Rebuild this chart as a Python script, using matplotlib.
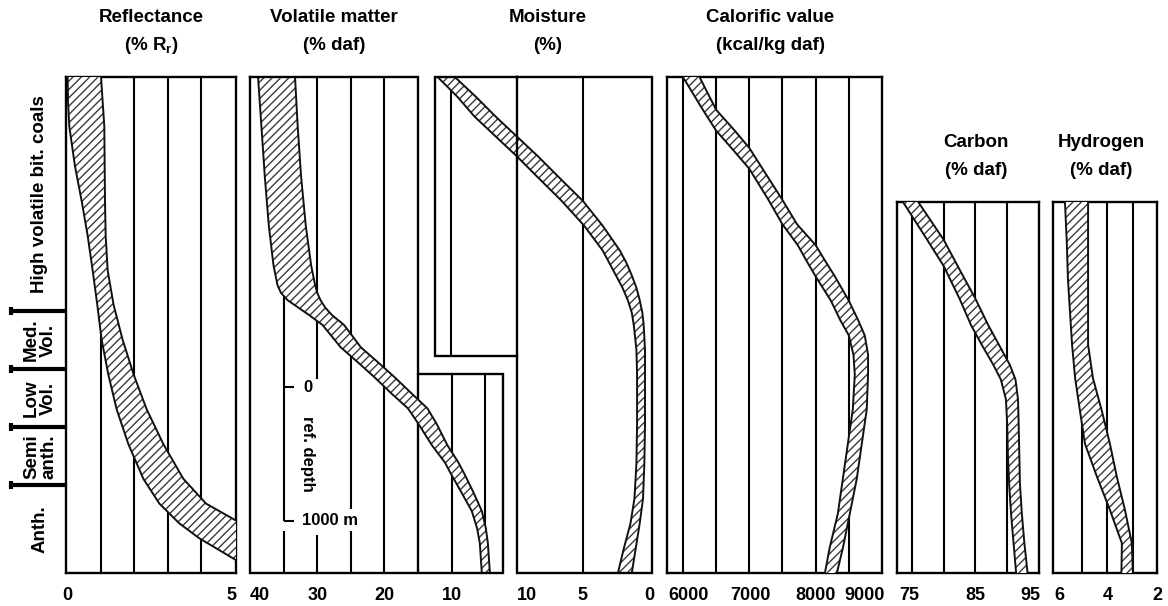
import numpy as np
import matplotlib
matplotlib.use('Agg')
import matplotlib.pyplot as plt

plt.rcParams['font.family'] = ['Liberation Sans', 'DejaVu Sans']
plt.rcParams['font.weight'] = 'bold'
plt.rcParams['mathtext.fontset'] = 'custom'
plt.rcParams['mathtext.rm'] = 'Liberation Sans:bold'
plt.rcParams['mathtext.bf'] = 'Liberation Sans:bold'
plt.rcParams['hatch.linewidth'] = 1.0

# rank column (depth fraction 0 = top of the panels, 1 = bottom)
rank_names = ['High volatile bit. coals', 'Med.\nVol.', 'Low\nVol.', 'Semi\nanth.', 'Anth.']
rank_bounds = [0.0, 0.472, 0.589, 0.706, 0.823, 1.0]

# reflectance band (% Rr)
refl_depth = [0.00, 0.05, 0.10, 0.18, 0.25, 0.32, 0.39, 0.46, 0.53, 0.60, 0.67, 0.74, 0.81, 0.86, 0.90, 0.93, 0.96, 0.98]
refl_left = [0.00, 0.01, 0.05, 0.22, 0.42, 0.60, 0.75, 0.89, 1.02, 1.22, 1.47, 1.82, 2.27, 2.75, 3.35, 3.95, 4.70, 5.20]
refl_right = [1.00, 1.05, 1.10, 1.11, 1.12, 1.14, 1.20, 1.38, 1.65, 1.98, 2.37, 2.87, 3.47, 4.15, 5.20, 5.20, 5.20, 5.20]

# volatile matter band (% daf)
vm_depth = [0.00, 0.10, 0.20, 0.30, 0.38, 0.42, 0.435, 0.45, 0.465, 0.48, 0.50, 0.545, 0.577, 0.605, 0.64,
            0.668, 0.70, 0.743, 0.777, 0.80, 0.836, 0.875, 0.91, 0.94, 1.00]
vm_left = [38.8, 38.3, 37.8, 37.2, 36.5, 35.9, 35.4, 34.4, 32.8, 31.2, 29.2, 26.5, 23.8, 21.5, 18.8,
           16.5, 14.9, 12.9, 11.0, 10.1, 8.6, 7.0, 6.2, 5.8, 5.5]
vm_right = [33.3, 32.9, 32.4, 31.7, 30.9, 30.3, 30.0, 29.5, 28.8, 27.8, 26.0, 23.5, 20.8, 18.5, 15.8,
            13.6, 12.2, 10.6, 9.0, 8.1, 6.8, 5.5, 4.9, 4.6, 4.3]

# moisture band (%)
moist_depth = [0.00, 0.04, 0.08, 0.12, 0.16, 0.20, 0.25, 0.30, 0.35, 0.375, 0.40, 0.425, 0.45, 0.475,
               0.50, 0.55, 0.60, 0.70, 0.78, 0.85, 0.90, 0.95, 1.00]
moist_left = [16.0, 14.5, 13.2, 11.6, 10.0, 8.5, 6.6, 4.9, 3.5, 3.0, 2.5, 2.0, 1.6, 1.3,
              1.15, 0.95, 0.9, 0.9, 0.95, 1.1, 1.4, 1.9, 2.35]
moist_right = [14.7, 13.1, 11.6, 10.0, 8.4, 6.9, 5.0, 3.5, 2.2, 1.7, 1.3, 0.95, 0.7, 0.5,
               0.4, 0.3, 0.3, 0.3, 0.35, 0.45, 0.7, 1.0, 1.3]

# calorific value band (kcal/kg daf)
cal_depth = [0.00, 0.066, 0.108, 0.143, 0.185, 0.248, 0.297, 0.339, 0.37, 0.402, 0.451, 0.49, 0.521,
             0.56, 0.60, 0.67, 0.74, 0.81, 0.88, 0.95, 1.00]
cal_left = [6000, 6300, 6500, 6730, 7000, 7290, 7500, 7730, 7860, 8000, 8230, 8370, 8500,
            8570, 8590, 8560, 8485, 8410, 8335, 8210, 8140]
cal_right = [6250, 6500, 6780, 7000, 7200, 7500, 7720, 8000, 8140, 8290, 8500, 8640, 8740,
             8790, 8790, 8770, 8695, 8620, 8515, 8410, 8320]

# carbon band (% daf)
c_depth = [0.252, 0.29, 0.328, 0.381, 0.447, 0.50, 0.54, 0.58, 0.61, 0.65, 0.70, 0.76, 0.82, 0.88, 0.94, 1.00]
c_left = [73.6, 75.5, 77.4, 80.0, 82.5, 84.3, 86.0, 87.8, 89.0, 89.8, 90.0, 90.1, 90.3, 90.6, 91.0, 91.4]
c_right = [76.0, 78.0, 80.0, 82.2, 85.0, 87.0, 88.7, 90.4, 91.3, 91.7, 91.8, 91.9, 92.0, 92.3, 92.7, 93.2]

# hydrogen band (% daf)
h_depth = [0.252, 0.33, 0.41, 0.54, 0.607, 0.673, 0.74, 0.806, 0.873, 0.94, 1.00]
h_left = [5.67, 5.60, 5.55, 5.39, 5.27, 5.08, 4.88, 4.41, 3.90, 3.43, 3.45]
h_right = [4.76, 4.76, 4.76, 4.76, 4.57, 4.22, 3.90, 3.63, 3.31, 3.04, 3.00]

# reference depth scale
depth_marks = [0.626, 0.895]
depth_labels = ['0', '1000 m']

W, H = 1168, 606
fig = plt.figure(figsize=(W / 100, H / 100), dpi=100)

TICK_FS = 13
TITLE_FS = 13.5
LW_GRID = 1.5
LW_BOX = 1.7


def panel(x0, x1, y0=77, y1=573, frame=True):
    ax = fig.add_axes([x0 / W, 1 - y1 / H, (x1 - x0) / W, (y1 - y0) / H])
    ax.patch.set_visible(False)
    ax.set_xticks([])
    ax.set_yticks([])
    for s in ax.spines.values():
        s.set_linewidth(LW_BOX)
        s.set_visible(frame)
    return ax


def band(ax, depth, left, right):
    ax.fill_betweenx(depth, left, right, facecolor='white', edgecolor='#3a3a3a',
                     hatch='////', linewidth=0, zorder=3)
    ax.plot(left, depth, color='#111111', lw=1.4, zorder=4)
    ax.plot(right, depth, color='#111111', lw=1.4, zorder=4)


def ticks(ax, values, labels, aligns=None, dx=None):
    aligns = aligns or ['center'] * len(values)
    dx = dx or [0] * len(values)
    for v, lab, ha, off in zip(values, labels, aligns, dx):
        ax.annotate(lab, xy=(v, 0), xycoords=('data', 'axes fraction'),
                    xytext=(off, -16), textcoords='offset points',
                    ha=ha, va='center', fontsize=TICK_FS, fontweight='bold')


def title(ax, line1, line2, x=0.5, xcoords='axes fraction', dx=0):
    for txt, off in ((line1, 42.5), (line2, 23)):
        ax.annotate(txt, xy=(x, 1), xycoords=(xcoords, 'axes fraction'),
                    xytext=(dx, off), textcoords='offset points',
                    ha='center', va='center', fontsize=TITLE_FS, fontweight='bold')


def outline(ax, xs, ys):
    ax.plot(xs, ys, color='k', lw=LW_BOX, clip_on=False, solid_joinstyle='miter', zorder=5)


# rank column
ax = panel(0, 66, frame=False)
ax.set_xlim(0, 66)
ax.set_ylim(1, 0)
inner = np.array(rank_bounds[1:-1])
ax.hlines(inner, 10, 66, color='k', lw=3)
ax.vlines(np.full(len(inner), 10.5), inner - 0.008, inner + 0.008, color='k', lw=3)
for name, top, bot in zip(rank_names, rank_bounds[:-1], rank_bounds[1:]):
    ax.text(40, (top + bot) / 2, name, rotation=90, ha='center', va='center',
            fontsize=13.5, fontweight='bold', linespacing=1.0, multialignment='center')

# reflectance
ax = panel(66, 236)
ax.set_xlim(-0.05, 5.05)
ax.set_ylim(1, 0)
ax.vlines([1, 2, 3, 4], 0, 1, color='k', lw=LW_GRID)
band(ax, refl_depth, refl_left, refl_right)
ticks(ax, [0, 5], ['0', '5'], dx=[0, -2])
title(ax, 'Reflectance', '(% R$_{\\mathrm{r}}$)')

# volatile matter, main box plus the lower extension
vm_ext_top = 0.598
ax = panel(250, 503, frame=False)
ax.set_xlim(40, 2.35)
ax.set_ylim(1, 0)
outline(ax, [40, 15, 15, 2.35, 2.35, 40, 40], [0, 0, vm_ext_top, vm_ext_top, 1, 1, 0])
ax.vlines(15, vm_ext_top, 1, color='k', lw=LW_BOX)
d0, d1 = depth_marks
ax.vlines(35, 0, d1, color='k', lw=LW_GRID)
ax.vlines(35, d1 + 0.02, 1, color='k', lw=LW_GRID)
ax.vlines(30, 0, d0 - 0.018, color='k', lw=LW_GRID)
ax.vlines(30, d1 + 0.028, 1, color='k', lw=LW_GRID)
ax.vlines(25, 0, d1 - 0.024, color='k', lw=LW_GRID)
ax.vlines(25, d1 + 0.021, 1, color='k', lw=LW_GRID)
ax.vlines(20, 0, 1, color='k', lw=LW_GRID)
ax.vlines([10, 5], vm_ext_top, 1, color='k', lw=LW_GRID)
ax.hlines(depth_marks, 35, 33.5, color='k', lw=LW_GRID)
ax.text(31.4, d0, depth_labels[0], ha='center', va='center', fontsize=12, fontweight='bold')
ax.text(32.2, d1, depth_labels[1], ha='left', va='center', fontsize=12, fontweight='bold')
ax.text(31.4, (d0 + d1) / 2, 'ref. depth', rotation=-90, ha='center', va='center',
        fontsize=12, fontweight='bold')
band(ax, vm_depth, vm_left, vm_right)
ticks(ax, [40, 30, 20, 10], ['40', '30', '20', '10'], ['left', 'center', 'center', 'center'])
title(ax, 'Volatile matter', '(% daf)', x=27.5, xcoords='data')

# moisture, main box plus the upper inset
moist_inset_bottom = 0.563
ax = panel(435, 652, frame=False)
ax.set_xlim(16.2, -0.23)
ax.set_ylim(1, 0)
outline(ax, [10, -0.23, -0.23, 10, 10], [0, 0, 1, 1, 0])
outline(ax, [10, 16.2, 16.2, 10], [0, 0, moist_inset_bottom, moist_inset_bottom])
ax.vlines(5, 0, 1, color='k', lw=LW_GRID)
ax.vlines(15, 0, moist_inset_bottom, color='k', lw=LW_GRID)
band(ax, moist_depth, moist_left, moist_right)
ticks(ax, [10, 5, 0], ['10', '5', '0'], ['left', 'center', 'center'])
title(ax, 'Moisture', '(%)', dx=3)

# calorific value
ax = panel(667, 882)
ax.set_xlim(5760, 9000)
ax.set_ylim(1, 0)
ax.vlines([6000, 6500, 7000, 7500, 8000, 8500], 0, 1, color='k', lw=LW_GRID)
band(ax, cal_depth, cal_left, cal_right)
ticks(ax, [6000, 7000, 8000, 9000], ['6000', '7000', '8000', '9000'],
      ['center', 'center', 'center', 'right'], dx=[4, 1, 0, 2])
title(ax, 'Calorific value', '(kcal/kg daf)', dx=-3)

# carbon
ax = panel(897, 1039, y0=202)
ax.set_xlim(72.66, 95)
ax.set_ylim(1, 0.252)
ax.vlines([75, 80, 85, 90], 0.252, 1, color='k', lw=LW_GRID)
band(ax, c_depth, c_left, c_right)
ticks(ax, [75, 85, 95], ['75', '85', '95'], ['center', 'center', 'right'], dx=[-2, 0, 1])
title(ax, 'Carbon', '(% daf)', dx=6)

# hydrogen
ax = panel(1053, 1157, y0=202)
ax.set_xlim(6.14, 2.05)
ax.set_ylim(1, 0.252)
ax.vlines([5, 4, 3], 0.252, 1, color='k', lw=LW_GRID)
band(ax, h_depth, h_left, h_right)
ticks(ax, [6, 4, 2.05], ['6', '4', '2'], dx=[2, 0, 0])
title(ax, 'Hydrogen', '(% daf)', dx=-3)

fig.savefig('out.png', dpi=100, facecolor='white')
